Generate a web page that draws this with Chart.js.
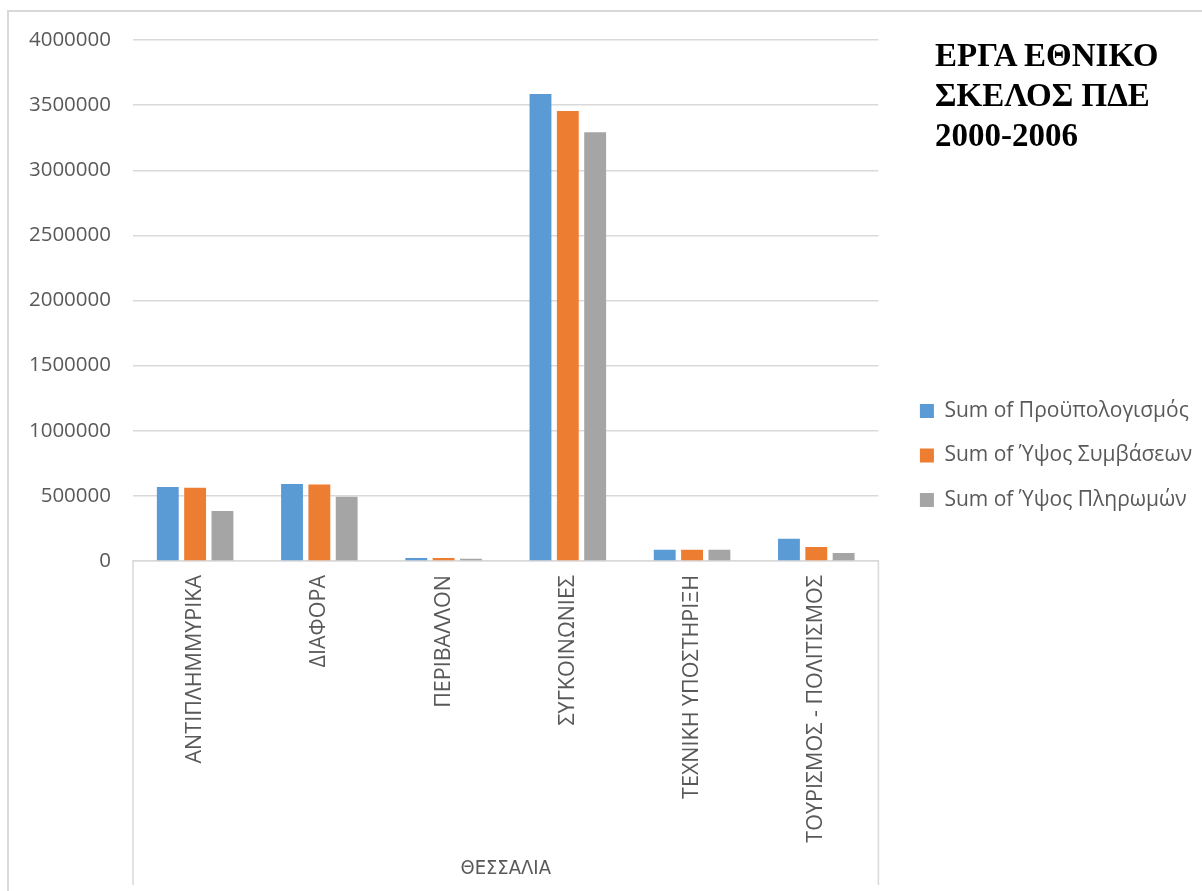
<!DOCTYPE html>
<html>
<head>
<meta charset="utf-8">
<script src="https://cdn.jsdelivr.net/npm/chart.js@4/dist/chart.umd.min.js"></script>
<style>
  html, body { margin: 0; padding: 0; background: #fff; }
  #wrap { position: relative; width: 1202px; height: 891px; overflow: hidden; }
  #frame { position: absolute; left: 7px; top: 10px; width: 1210px; height: 900px;
           border-left: 2px solid #d9d9d9; border-top: 2px solid #d9d9d9; pointer-events: none; }
  #title { position: absolute; left: 935px; top: 35px; font: bold 33px "Liberation Serif", "Times New Roman", serif;
           line-height: 40px; color: #000; white-space: nowrap; }
  canvas { position: absolute; left: 0; top: 0; }
</style>
</head>
<body>
<div id="wrap">
  <canvas id="c" width="1202" height="891"></canvas>
  <div id="frame"></div>
  <div id="title"></div>
</div>
<script>
const titleLines = ['ΕΡΓΑ ΕΘΝΙΚΟ', 'ΣΚΕΛΟΣ ΠΔΕ', '2000-2006'];
const groupLabel = 'ΘΕΣΣΑΛΙΑ';
const categories = ['ΑΝΤΙΠΛΗΜΜΥΡΙΚΑ', 'ΔΙΑΦΟΡΑ', 'ΠΕΡΙΒΑΛΛΟΝ', 'ΣΥΓΚΟΙΝΩΝΙΕΣ', 'ΤΕΧΝΙΚΗ ΥΠΟΣΤΗΡΙΞΗ', 'ΤΟΥΡΙΣΜΟΣ - ΠΟΛΙΤΙΣΜΟΣ'];
const seriesNames = ['Sum of Προϋπολογισμός', 'Sum of Ύψος Συμβάσεων', 'Sum of Ύψος Πληρωμών'];
const budget    = [568000, 591000, 23000, 3585000, 87000, 171000];
const contracts = [562000, 587000, 23000, 3455000, 87000, 107000];
const payments  = [384000, 494000, 18000, 3291000, 87000, 61000];
const yMin = 0, yMax = 4000000, yStep = 500000;

document.getElementById('title').innerHTML = titleLines.join('<br>');

const TEXT = '#595959';
const GRID = '#d9d9d9';
const FONT = '"Open Sans", "Noto Sans", sans-serif';

const boxLines = {
  id: 'boxLines',
  afterDraw(chart) {
    const a = chart.chartArea, ctx = chart.ctx, xs = chart.scales.x;
    ctx.save();
    ctx.strokeStyle = GRID; ctx.lineWidth = 1.5;
    ctx.beginPath();
    ctx.moveTo(a.left, a.bottom); ctx.lineTo(a.left, xs.bottom - 6);
    ctx.moveTo(a.right, a.bottom); ctx.lineTo(a.right, xs.bottom - 6);
    ctx.stroke();
    ctx.restore();
  }
};

new Chart(document.getElementById('c'), {
  type: 'bar',
  data: {
    labels: categories,
    datasets: [
      { label: seriesNames[0], data: budget,    backgroundColor: '#5B9BD5' },
      { label: seriesNames[1], data: contracts, backgroundColor: '#ED7D31' },
      { label: seriesNames[2], data: payments,  backgroundColor: '#A5A5A5' }
    ]
  },
  options: {
    responsive: false,
    animation: false,
    layout: { padding: { left: 10, top: 20, right: 0, bottom: 0 } },
    datasets: { bar: { categoryPercentage: 0.66, barPercentage: 0.8 } },
    scales: {
      x: {
        position: 'bottom',
        grid: { display: false, drawTicks: false },
        border: { display: true, color: GRID, width: 1.5 },
        ticks: { color: TEXT, font: { family: FONT, size: 21.5 }, minRotation: 90, maxRotation: 90, padding: 14, autoSkip: false },
        title: { display: true, text: groupLabel, color: TEXT,
                 font: { family: '"DejaVu Sans Condensed", "Liberation Sans Narrow", "Open Sans", sans-serif', size: 20 },
                 padding: { top: 0, bottom: 10 } },
        afterFit(s) { s.height = 330; }
      },
      xTop: {
        type: 'linear', axis: 'x', position: 'top', display: true,
        grid: { display: false, drawTicks: false }, border: { display: false }, ticks: { display: false },
        afterFit(s) { s.height = 20; }
      },
      y: {
        position: 'left',
        min: yMin, max: yMax,
        grid: { color: GRID, lineWidth: 1.5, drawTicks: false },
        border: { display: false },
        ticks: { stepSize: yStep, color: TEXT, font: { family: FONT, size: 20.5 }, padding: 22,
                 callback: (v) => String(v) },
        afterFit(s) { s.width = 123; }
      },
      yGap: {
        type: 'linear', axis: 'y', position: 'right', display: true,
        grid: { display: false, drawTicks: false }, border: { display: false }, ticks: { display: false },
        afterFit(s) { s.width = 18; }
      }
    },
    plugins: {
      legend: {
        position: 'right',
        align: 'center',
        maxWidth: 330,
        labels: { color: TEXT, font: { family: FONT, size: 21 }, boxWidth: 14, boxHeight: 14, padding: 23.5 }
      },
      title: { display: false },
      tooltip: { enabled: false }
    }
  },
  plugins: [boxLines]
});
</script>
</body>
</html>
